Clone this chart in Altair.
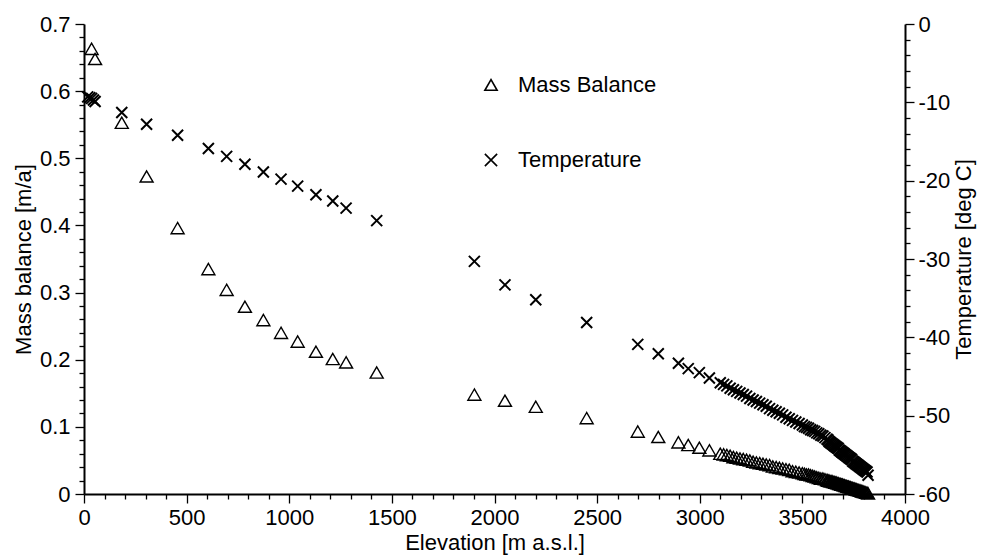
import altair as alt
import pandas as pd

# Mass balance [m/a] along the elevation profile [m a.s.l.]
mb_elevation = [
    37, 54, 184, 305, 456, 606, 695, 784, 874, 960, 1041, 1130, 1212, 1277, 1426,
    1902, 2051, 2201, 2449, 2698, 2798, 2896, 2944, 2998, 3047,
    3100, 3116, 3132, 3148, 3164, 3180, 3196, 3212, 3228, 3244, 3260, 3276, 3292,
    3308, 3324, 3340, 3356, 3372, 3388, 3404, 3420, 3436, 3452, 3468, 3484, 3500,
    3510, 3520, 3530, 3540, 3550, 3560, 3570, 3580, 3590, 3600, 3610, 3620,
    3625, 3630, 3635, 3640, 3645, 3650, 3655, 3660, 3665, 3670, 3675, 3680, 3685,
    3690, 3695, 3700, 3705, 3710, 3715, 3720, 3725, 3730, 3735, 3740, 3745, 3750,
    3755, 3760, 3765, 3770, 3775, 3780, 3785, 3790, 3795, 3800, 3805, 3810, 3815, 3820,
]
mb_values = [
    0.663, 0.648, 0.553, 0.473, 0.396, 0.335, 0.304, 0.279, 0.259, 0.240, 0.227, 0.212,
    0.201, 0.196, 0.181, 0.148, 0.139, 0.130, 0.113, 0.093, 0.085, 0.077, 0.073, 0.069, 0.065,
    0.060, 0.059, 0.058, 0.057, 0.055, 0.054, 0.053, 0.052, 0.051, 0.050, 0.048, 0.047, 0.046,
    0.045, 0.044, 0.043, 0.041, 0.040, 0.039, 0.038, 0.037, 0.036, 0.034, 0.033, 0.032, 0.031,
    0.030, 0.029, 0.029, 0.028, 0.027, 0.026, 0.025, 0.024, 0.023, 0.023, 0.022, 0.021,
    0.020, 0.020, 0.019, 0.019, 0.019, 0.018, 0.018, 0.017, 0.017, 0.016, 0.016, 0.015, 0.015,
    0.014, 0.014, 0.013, 0.013, 0.012, 0.012, 0.011, 0.011, 0.010, 0.010, 0.009, 0.009, 0.008,
    0.008, 0.007, 0.007, 0.006, 0.006, 0.005, 0.005, 0.004, 0.004, 0.003, 0.003, 0.002, 0.002, 0.001,
]

# Temperature [deg C] along the same profile
t_elevation = [
    18, 28, 37, 46, 54, 184, 305, 456, 606, 695, 784, 874, 960, 1041, 1130, 1212, 1277, 1426,
    1902, 2051, 2201, 2449, 2698, 2798, 2896, 2944, 2998, 3047,
    3100, 3116, 3132, 3148, 3164, 3180, 3196, 3212, 3228, 3244, 3260, 3276, 3292,
    3308, 3324, 3340, 3356, 3372, 3388, 3404, 3420, 3436, 3452, 3468, 3484, 3500,
    3510, 3520, 3530, 3540, 3550, 3560, 3570, 3580, 3590, 3600, 3610, 3620,
    3625, 3630, 3635, 3640, 3645, 3650, 3655, 3660, 3665, 3670, 3675, 3680, 3685,
    3690, 3695, 3700, 3705, 3710, 3715, 3720, 3725, 3730, 3735, 3740, 3745, 3750,
    3755, 3760, 3765, 3770, 3775, 3780, 3785, 3790, 3795, 3800, 3805, 3810, 3815, 3820,
]
t_values = [
    -9.3, -9.4, -9.5, -9.7, -9.9, -11.3, -12.8, -14.2, -15.9, -16.9, -17.9, -18.9, -19.8,
    -20.7, -21.8, -22.6, -23.5, -25.1, -30.3, -33.3, -35.2, -38.1, -40.9, -42.1, -43.3,
    -44.0, -44.5, -45.2,
    -45.8, -46.0, -46.2, -46.5, -46.7, -46.9, -47.1, -47.3, -47.5, -47.8, -48.0, -48.2, -48.4,
    -48.6, -48.8, -49.1, -49.3, -49.5, -49.7, -49.9, -50.2, -50.4, -50.6, -50.8, -51.0, -51.2,
    -51.4, -51.5, -51.6, -51.8, -51.9, -52.0, -52.2, -52.3, -52.5, -52.6, -52.8, -53.0,
    -53.1, -53.3, -53.4, -53.5, -53.6, -53.7, -53.8, -53.9, -54.0, -54.1, -54.2, -54.4, -54.5,
    -54.6, -54.7, -54.8, -54.9, -55.0, -55.1, -55.2, -55.3, -55.4, -55.5, -55.6, -55.8, -55.9,
    -56.0, -56.1, -56.2, -56.3, -56.4, -56.5, -56.6, -56.7, -56.8, -56.9, -57.0, -57.1, -57.2, -57.6,
]

series_names = ["Mass Balance", "Temperature"]

# Axis ticks: labelled major ticks and unlabelled minor ticks
x_major = [0, 500, 1000, 1500, 2000, 2500, 3000, 3500, 4000]
x_minor = [v for v in range(0, 4001, 100) if v % 500]
mb_major = [0, 0.1, 0.2, 0.3, 0.4, 0.5, 0.6, 0.7]
mb_minor = [round(0.02 * k, 2) for k in range(36) if k % 5]
t_major = [-60, -50, -40, -30, -20, -10, 0]
t_minor = [v for v in range(-60, 1, 2) if v % 10]

FONT = "Liberation Sans"
FS = 22

mb_df = pd.DataFrame({"elev": mb_elevation, "value": mb_values, "series": series_names[0]})
t_df = pd.DataFrame({"elev": t_elevation, "value": t_values, "series": series_names[1]})

x_scale = alt.Scale(domain=[0, 4000], nice=False, zero=False)
mb_scale = alt.Scale(domain=[0, 0.7], nice=False)
t_scale = alt.Scale(domain=[-60, 0], nice=False)
shape_scale = alt.Scale(domain=series_names, range=["triangle-up", "M-1,-1L1,1M-1,1L1,-1"])


def axis_style(**kw):
    base = dict(
        grid=False, domainColor="black", domainWidth=2, tickColor="black", tickWidth=1.3,
        labelFont=FONT, labelFontSize=FS, labelColor="black", labelFlush=False,
        titleFont=FONT, titleFontSize=FS, titleColor="black", titleFontWeight="normal",
    )
    base.update(kw)
    return alt.Axis(**base)


def minor_axis(orient, values):
    return axis_style(orient=orient, values=values, tickSize=5, labels=False, domain=False, title=None)


legend = alt.Legend(
    title=None, orient="none", legendX=396, legendY=50, padding=0,
    labelFont=FONT, labelFontSize=FS, labelColor="black", labelOffset=16,
    symbolSize=150, symbolStrokeColor="black", symbolStrokeWidth=1.6, symbolOpacity=1,
    symbolFillColor="transparent", rowPadding=53,
)

mb_minor_layer = alt.Chart(mb_df).mark_point(opacity=0).encode(
    x=alt.X("elev:Q", scale=x_scale, axis=minor_axis("bottom", x_minor)),
    y=alt.Y("value:Q", scale=mb_scale, axis=minor_axis("left", mb_minor)),
)

t_minor_layer = alt.Chart(t_df).mark_point(opacity=0).encode(
    x=alt.X("elev:Q", scale=x_scale, axis=None),
    y=alt.Y("value:Q", scale=t_scale, axis=minor_axis("right", t_minor)),
)

mb_layer = alt.Chart(mb_df).mark_point(
    filled=False, color="black", opacity=1, strokeWidth=1.4, size=169
).encode(
    x=alt.X(
        "elev:Q", scale=x_scale,
        axis=axis_style(orient="bottom", values=x_major, format="d", tickSize=9, labelPadding=4,
                        title="Elevation [m a.s.l.]", titlePadding=4),
    ),
    y=alt.Y(
        "value:Q", scale=mb_scale,
        axis=axis_style(orient="left", values=mb_major, tickSize=9, labelPadding=5,
                        labelExpr="datum.value == 0 ? '0' : format(datum.value, '.1f')",
                        title="Mass balance [m/a]", titlePadding=4),
    ),
    shape=alt.Shape("series:N", scale=shape_scale, legend=legend),
)

t_layer = alt.Chart(t_df).mark_point(
    filled=False, color="black", opacity=1, strokeWidth=2, size=121
).encode(
    x=alt.X("elev:Q", scale=x_scale, axis=None),
    y=alt.Y(
        "value:Q", scale=t_scale,
        axis=axis_style(orient="right", values=t_major, tickSize=9, labelPadding=4,
                        labelExpr="'' + datum.value",
                        title="Temperature [deg C]", titleAngle=270, titleBaseline="top",
                        titlePadding=4),
    ),
    shape=alt.Shape("series:N", scale=shape_scale, legend=legend),
)

chart = (
    alt.layer(mb_minor_layer, t_minor_layer, mb_layer, t_layer)
    .resolve_scale(y="independent")
    .resolve_axis(x="independent", y="independent")
    .properties(
        width=821, height=470,
        autosize=alt.AutoSizeParams(type="none"),
        padding={"left": 84, "top": 24, "right": 76, "bottom": 62},
        background="white",
    )
    .configure_view(strokeWidth=0)
)

chart.save("out.html", embed_options={"renderer": "svg", "actions": False})
